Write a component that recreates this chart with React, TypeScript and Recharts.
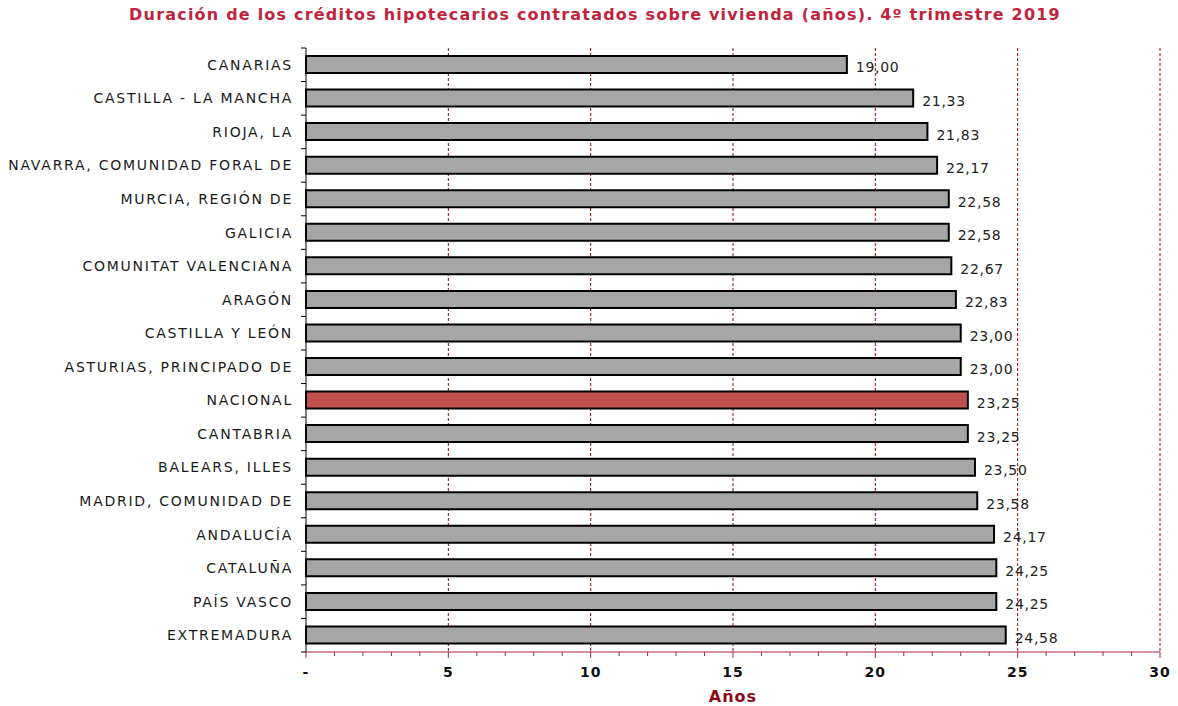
import { BarChart, Bar, XAxis, YAxis, CartesianGrid, LabelList, Cell } from 'recharts';

const regions = [
  'CANARIAS',
  'CASTILLA - LA MANCHA',
  'RIOJA, LA',
  'NAVARRA, COMUNIDAD FORAL DE',
  'MURCIA, REGIÓN DE',
  'GALICIA',
  'COMUNITAT VALENCIANA',
  'ARAGÓN',
  'CASTILLA Y LEÓN',
  'ASTURIAS, PRINCIPADO DE',
  'NACIONAL',
  'CANTABRIA',
  'BALEARS, ILLES',
  'MADRID, COMUNIDAD DE',
  'ANDALUCÍA',
  'CATALUÑA',
  'PAÍS VASCO',
  'EXTREMADURA',
];

const years = [19.0, 21.33, 21.83, 22.17, 22.58, 22.58, 22.67, 22.83, 23.0, 23.0, 23.25, 23.25, 23.5, 23.58, 24.17, 24.25, 24.25, 24.58];

const xTicks = Array.from({ length: 31 }, (_, i) => i);
const gridTicks = [5, 10, 15, 20, 25, 30];

const FONT = '"DejaVu Sans", Verdana, sans-serif';
const AXIS_RED = '#A52A3A';

const data = regions.map((name, i) => ({ name, value: years[i] }));

const fmt = (v: any) => Number(v).toFixed(2).replace('.', ',');

const CategoryTick = (props: any) => {
  const { x, y, payload, index } = props;
  const off = payload.offset ?? 0;
  const ax = x + 8;
  return (
    <g>
      <line x1={ax} x2={ax - 5} y1={y - off} y2={y - off} stroke="#000" strokeWidth={1} />
      {index === regions.length - 1 && (
        <line x1={ax} x2={ax - 5} y1={y + off} y2={y + off} stroke="#000" strokeWidth={1} />
      )}
      <text
        x={x - 5}
        y={y}
        dy={5}
        textAnchor="end"
        fontFamily={FONT}
        fontSize={14}
        letterSpacing={1.75}
        fill="#1a1a1a"
      >
        {payload.value}
      </text>
    </g>
  );
};

const YearTick = (props: any) => {
  const { x, y, payload } = props;
  const v = payload.value;
  const major = v % 5 === 0;
  return (
    <g>
      <line x1={x} x2={x} y1={y - 8} y2={y - 8 + (major ? 6 : 4)} stroke={AXIS_RED} strokeWidth={1} />
      {major && (
        <text
          x={x}
          y={y + 17}
          textAnchor="middle"
          fontFamily={FONT}
          fontSize={14}
          fontWeight="bold"
          letterSpacing={1}
          fill="#111"
        >
          {v === 0 ? '-' : v}
        </text>
      )}
    </g>
  );
};

export default function App() {
  return (
    <div style={{ position: 'absolute', left: 0, top: 0, width: 1178, height: 706, background: '#fff' }}>
      <div
        style={{
          position: 'absolute',
          left: 0,
          top: 5,
          width: 1190,
          textAlign: 'center',
          fontFamily: FONT,
          fontWeight: 'bold',
          fontSize: 16,
          letterSpacing: 1.2,
          color: '#C0243C',
        }}
      >
        Duración de los créditos hipotecarios contratados sobre vivienda (años). 4º trimestre 2019
      </div>
      <BarChart
        width={1178}
        height={706}
        data={data}
        layout="vertical"
        margin={{ top: 48, right: 18, bottom: 0, left: 0 }}
        barSize={17}
      >
        <CartesianGrid
          horizontal={false}
          vertical
          verticalValues={gridTicks}
          stroke="#A00000"
          strokeDasharray="3 2"
        />
        <XAxis
          type="number"
          domain={[0, 30]}
          ticks={xTicks}
          interval={0}
          tick={<YearTick />}
          tickLine={false}
          axisLine={{ stroke: AXIS_RED }}
          height={54}
          label={{
            value: 'Años',
            position: 'insideBottom',
            offset: 4,
            fill: '#8B0A1A',
            fontFamily: FONT,
            fontWeight: 'bold',
            fontSize: 16,
            letterSpacing: 1,
          }}
        />
        <YAxis
          type="category"
          dataKey="name"
          width={306}
          tick={<CategoryTick />}
          tickLine={false}
          axisLine={{ stroke: '#000' }}
          interval={0}
        />
        <Bar dataKey="value" fill="#A6A6A6" stroke="#000" strokeWidth={2} isAnimationActive={false}>
          {data.map((d) => (
            <Cell key={d.name} fill={d.name === 'NACIONAL' ? '#C0504D' : '#A6A6A6'} />
          ))}
          <LabelList
            dataKey="value"
            position="right"
            offset={9}
            formatter={fmt}
            fontFamily={FONT}
            fontSize={14}
            letterSpacing={0.7}
            fill="#222"
            dy={3}
          />
        </Bar>
      </BarChart>
    </div>
  );
}
